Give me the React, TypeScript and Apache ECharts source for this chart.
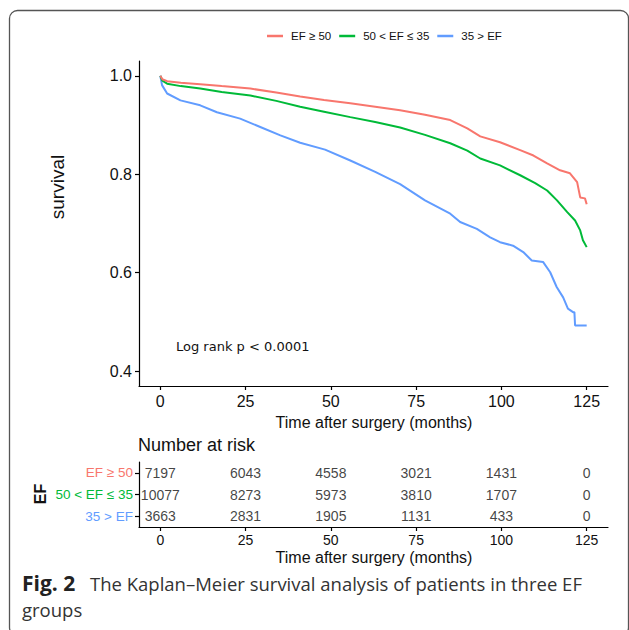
import React, { useEffect, useRef } from "react";
import * as echarts from "echarts";

// ---- Survival curves (months, survival probability) ----
const highTime = [0, 0.6, 2, 6, 11.7, 18, 26.4, 34, 41, 48, 55.7, 63, 70.3, 77.6, 85, 90, 93.8, 99.6, 105.5, 109.4, 113.4, 117.2, 120.1, 122.2, 123.1, 124.5, 125];
const highSurv = [1, 0.993, 0.989, 0.986, 0.983, 0.979, 0.974, 0.966, 0.958, 0.951, 0.944, 0.937, 0.93, 0.921, 0.91, 0.893, 0.877, 0.865, 0.849, 0.838, 0.822, 0.808, 0.802, 0.784, 0.753, 0.751, 0.739];

const midTime = [0, 0.6, 2, 6, 11.7, 18, 26.4, 34, 41, 48, 55.7, 63, 70.3, 77.6, 85, 90, 93.8, 99.6, 105.5, 109.9, 113.4, 116.3, 119.3, 121.6, 123.1, 123.9, 125];
const midSurv = [1, 0.99, 0.984, 0.979, 0.974, 0.967, 0.96, 0.949, 0.937, 0.927, 0.916, 0.906, 0.895, 0.88, 0.863, 0.848, 0.832, 0.818, 0.798, 0.782, 0.767, 0.747, 0.723, 0.706, 0.686, 0.666, 0.652];

const lowTime = [0, 0.5, 2, 5.9, 11.7, 16.6, 23.4, 29.3, 35.2, 41, 48.3, 55.7, 63, 70.3, 77.6, 85, 87.9, 92.8, 96.7, 99.6, 103.4, 106.4, 108.9, 112.2, 114.3, 116.2, 118.1, 119.5, 121, 121.4, 121.6, 125];
const lowSurv = [1, 0.981, 0.964, 0.95, 0.94, 0.926, 0.913, 0.896, 0.879, 0.864, 0.85, 0.828, 0.805, 0.78, 0.747, 0.72, 0.703, 0.689, 0.672, 0.662, 0.655, 0.642, 0.625, 0.622, 0.601, 0.571, 0.55, 0.527, 0.52, 0.52, 0.493, 0.493];

// ---- Axes ----
const xTicks = [0, 25, 50, 75, 100, 125];
const yTicks = [0.4, 0.6, 0.8, 1.0];

// ---- Groups ----
const groupNames = ["EF ≥ 50", "50 < EF ≤ 35", "35 > EF"];
const groupColors = ["#F8766D", "#00BA38", "#619CFF"];

// ---- Number at risk ----
const riskTimes = [0, 25, 50, 75, 100, 125];
const riskHigh = [7197, 6043, 4558, 3021, 1431, 0];
const riskMid = [10077, 8273, 5973, 3810, 1707, 0];
const riskLow = [3663, 2831, 1905, 1131, 433, 0];

const FONT = "'Liberation Sans', Arial, sans-serif";

function zip(t: number[], s: number[]) {
  return t.map((v, i) => [v, s[i]]);
}

export default function App() {
  const ref = useRef<HTMLDivElement>(null);

  useEffect(() => {
    document.body.style.margin = "0";
    if (!ref.current) return;
    const chart = echarts.init(ref.current, undefined, { renderer: "svg" });

    const curves = [zip(highTime, highSurv), zip(midTime, midSurv), zip(lowTime, lowSurv)];
    const risks = [riskHigh, riskMid, riskLow];

    const lineSeries = curves.map((d, i) => ({
      name: groupNames[i],
      type: "line",
      xAxisIndex: 0,
      yAxisIndex: 0,
      data: d,
      showSymbol: false,
      symbol: "none",
      lineStyle: { color: groupColors[i], width: 2 },
      itemStyle: { color: groupColors[i] },
      z: 5 - i,
    }));

    const riskSeries = risks.map((r, i) => ({
      name: "risk" + i,
      type: "scatter",
      xAxisIndex: 1,
      yAxisIndex: 1,
      symbolSize: 1,
      itemStyle: { color: "rgba(0,0,0,0)" },
      data: riskTimes.map((t, j) => [t, i, r[j]]),
      label: {
        show: true,
        position: "inside",
        formatter: (p: any) => String(p.value[2]),
        color: "#111",
        fontSize: 14,
        fontFamily: FONT,
      },
    }));

    const axisLine = { show: true, onZero: false, lineStyle: { color: "#000", width: 1.2 } };
    const tick = { show: true, inside: false, length: 4, lineStyle: { color: "#000", width: 1.2 } };

    chart.setOption({
      animation: false,
      legend: {
        data: groupNames,
        left: 262,
        top: 25,
        icon: "rect",
        itemWidth: 16,
        itemHeight: 2.5,
        itemGap: 8,
        textStyle: { fontSize: 11.5, fontFamily: FONT, color: "#111", padding: [0, 0, 0, 3] },
      },
      grid: [
        { left: 139, top: 61, width: 469, height: 325 },
        { left: 139, top: 462, width: 469, height: 65 },
      ],
      xAxis: [
        {
          type: "value",
          gridIndex: 0,
          min: -6.25,
          max: 131.25,
          axisLine,
          splitLine: { show: false },
          axisTick: { ...tick, customValues: xTicks },
          axisLabel: { customValues: xTicks, fontSize: 16, fontFamily: FONT, color: "#111", margin: 7 },
        },
        {
          type: "value",
          gridIndex: 1,
          min: -6.25,
          max: 131.25,
          axisLine,
          splitLine: { show: false },
          axisTick: { ...tick, customValues: riskTimes },
          axisLabel: { customValues: riskTimes, fontSize: 14, fontFamily: FONT, color: "#111", margin: 6 },
        },
      ],
      yAxis: [
        {
          type: "value",
          gridIndex: 0,
          min: 0.37,
          max: 1.03,
          axisLine,
          splitLine: { show: false },
          axisTick: { ...tick, customValues: yTicks },
          axisLabel: {
            customValues: yTicks,
            fontSize: 16,
            fontFamily: FONT,
            color: "#111",
            margin: 7,
            formatter: (v: number) => v.toFixed(1),
          },
        },
        {
          type: "category",
          gridIndex: 1,
          inverse: true,
          data: groupNames.map((n, i) => ({ value: n, textStyle: { color: groupColors[i] } })),
          axisLine,
          splitLine: { show: false },
          axisTick: { ...tick, alignWithLabel: true },
          axisLabel: { fontSize: 13.5, fontFamily: FONT, margin: 6 },
        },
      ],
      series: [...lineSeries, ...riskSeries],
      graphic: [
        {
          type: "rect",
          silent: true,
          z: -10,
          shape: { x: 9.5, y: 10.5, width: 619, height: 625, r: 8 },
          style: { fill: "none", stroke: "#555", lineWidth: 1.3 },
        },
        {
          type: "text",
          x: 57,
          y: 187,
          rotation: Math.PI / 2,
          style: { text: "survival", fontSize: 19, fontFamily: FONT, fill: "#111", align: "center", verticalAlign: "middle", textAlign: "center", textVerticalAlign: "middle" },
        },
        {
          type: "text",
          x: 374,
          y: 422,
          style: { text: "Time after surgery (months)", fontSize: 16, fontFamily: FONT, fill: "#111", align: "center", verticalAlign: "middle", textAlign: "center", textVerticalAlign: "middle" },
        },
        {
          type: "text",
          x: 176,
          y: 346,
          style: { text: "Log rank p < 0.0001", fontSize: 13, fontFamily: "'DejaVu Sans', sans-serif", fill: "#111", align: "left", verticalAlign: "middle", textAlign: "left", textVerticalAlign: "middle" },
        },
        {
          type: "text",
          x: 138,
          y: 445,
          style: { text: "Number at risk", fontSize: 18, fontFamily: FONT, fill: "#111", align: "left", verticalAlign: "middle", textAlign: "left", textVerticalAlign: "middle" },
        },
        {
          type: "text",
          x: 40,
          y: 494,
          rotation: Math.PI / 2,
          style: { text: "EF", fontSize: 16, fontWeight: "bold", fontFamily: FONT, fill: "#111", align: "center", verticalAlign: "middle", textAlign: "center", textVerticalAlign: "middle" },
        },
        {
          type: "text",
          x: 374,
          y: 557,
          style: { text: "Time after surgery (months)", fontSize: 16, fontFamily: FONT, fill: "#111", align: "center", verticalAlign: "middle", textAlign: "center", textVerticalAlign: "middle" },
        },
        {
          type: "text",
          x: 22,
          y: 583,
          style: { text: "Fig. 2", fontSize: 21, fontWeight: "bold", fontFamily: "'Open Sans', sans-serif", fill: "#222", align: "left", verticalAlign: "middle", textAlign: "left", textVerticalAlign: "middle" },
        },
        {
          type: "text",
          x: 90,
          y: 583,
          style: { text: "The Kaplan–Meier survival analysis of patients in three EF", fontSize: 18.5, fontFamily: "'Open Sans', sans-serif", fill: "#333", align: "left", verticalAlign: "middle", textAlign: "left", textVerticalAlign: "middle" },
        },
        {
          type: "text",
          x: 22,
          y: 609,
          style: { text: "groups", fontSize: 18.5, fontFamily: "'Open Sans', sans-serif", fill: "#333", align: "left", verticalAlign: "middle", textAlign: "left", textVerticalAlign: "middle" },
        },
      ],
    });

    return () => chart.dispose();
  }, []);

  return <div ref={ref} style={{ width: 629, height: 630 }} />;
}
